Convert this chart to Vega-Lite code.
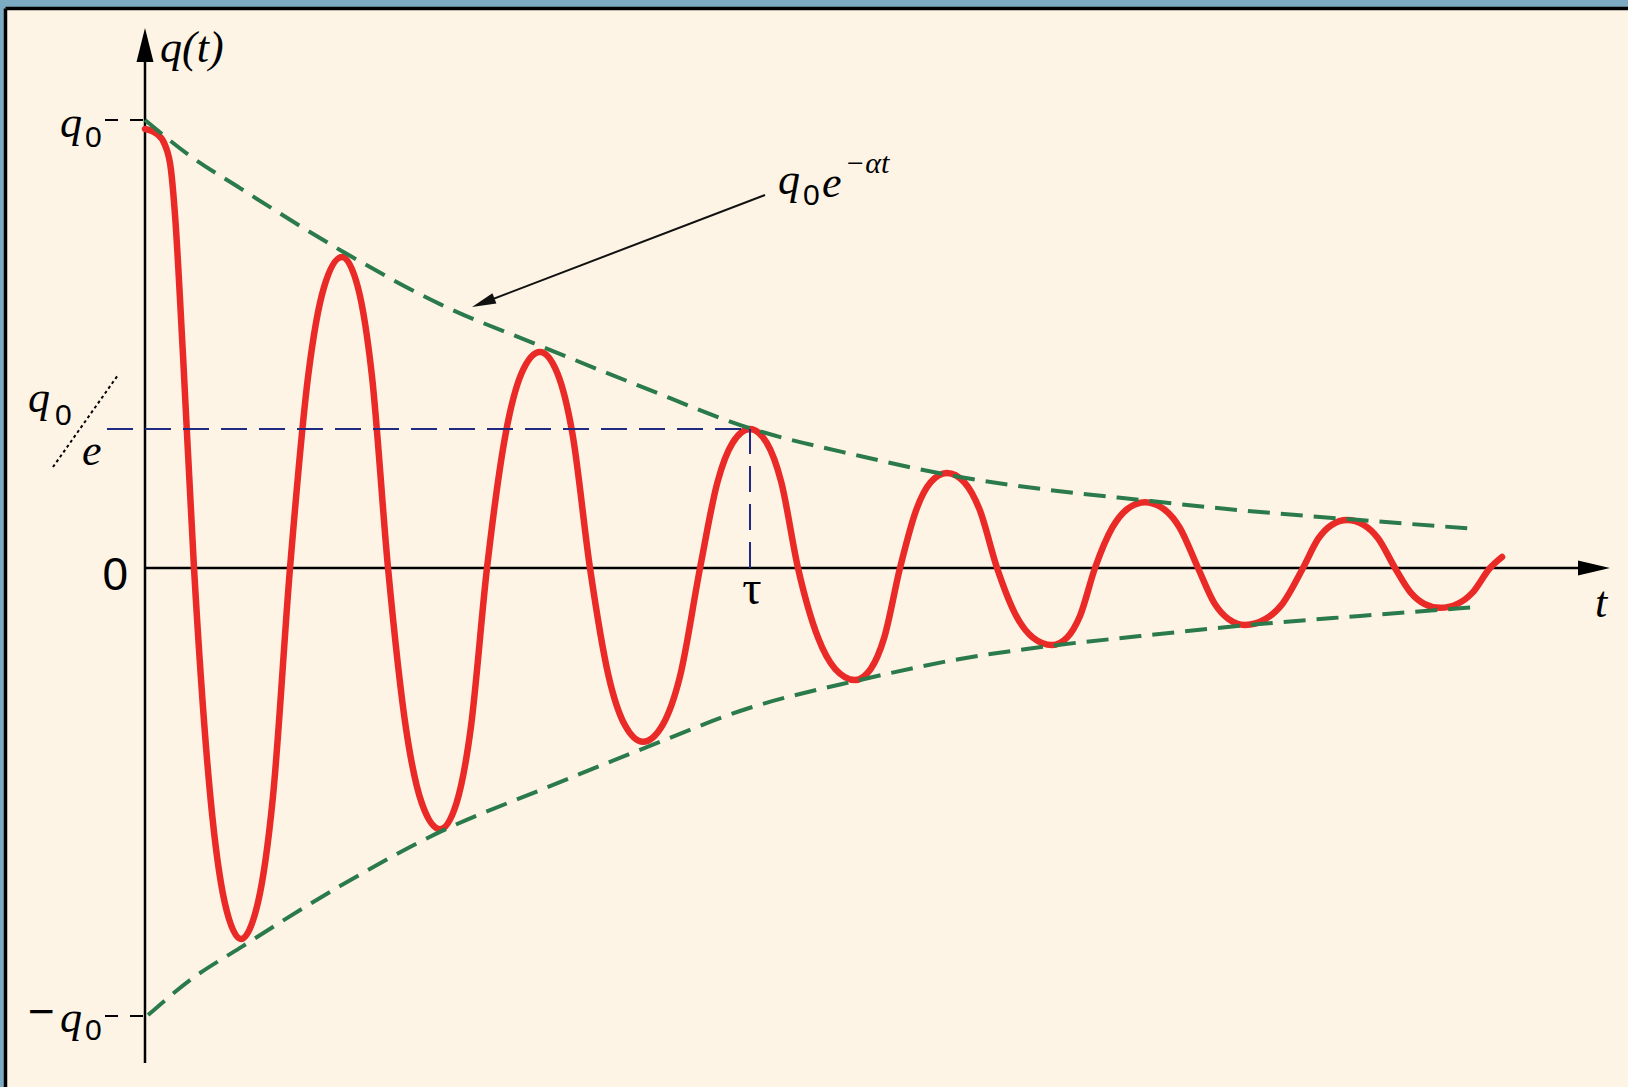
{
  "$schema": "https://vega.github.io/schema/vega-lite/v6.json",
  "width": 1623,
  "height": 1079,
  "padding": {"left": 5, "top": 8, "right": 0, "bottom": 0},
  "autosize": {"type": "none"},
  "background": "#7eabc4",
  "config": {
    "view": {"fill": "#fdf4e6", "stroke": null}
  },
  "datasets": {
    "axes": [
      {"t": 0, "q": -1.1049, "t2": 0, "q2": 1.19},
      {"t": 0, "q": 0, "t2": 2.40, "q2": 0}
    ],
    "ticks": [
      {"t": -0.0661, "q": 1, "t2": 0, "q2": 1},
      {"t": -0.0661, "q": -1, "t2": 0, "q2": -1}
    ],
    "guide": [
      {"t": -0.0628, "q": 0.31, "t2": 1, "q2": 0.31},
      {"t": 1, "q": 0, "t2": 1, "q2": 0.31}
    ],
    "slash": [
      {"t": -0.1521, "q": 0.2254, "t2": -0.0446, "q2": 0.4308}
    ],
    "pointer": [
      {"t": 1.0248, "q": 0.8326, "t2": 0.5590, "q2": 0.5922}
    ],
    "curve": [
      {"t": 0, "q": 0.980},
      {"t": 0.0198, "q": 0.969},
      {"t": 0.0331, "q": 0.944},
      {"t": 0.0430, "q": 0.888},
      {"t": 0.0496, "q": 0.788},
      {"t": 0.0628, "q": 0.475},
      {"t": 0.0810, "q": 0},
      {"t": 0.1082, "q": -0.513},
      {"t": 0.1315, "q": -0.745},
      {"t": 0.1587, "q": -0.828},
      {"t": 0.1870, "q": -0.745},
      {"t": 0.2113, "q": -0.513},
      {"t": 0.2397, "q": 0},
      {"t": 0.2698, "q": 0.430},
      {"t": 0.2955, "q": 0.625},
      {"t": 0.3256, "q": 0.694},
      {"t": 0.3522, "q": 0.625},
      {"t": 0.3750, "q": 0.430},
      {"t": 0.4017, "q": 0},
      {"t": 0.4317, "q": -0.361},
      {"t": 0.4575, "q": -0.525},
      {"t": 0.4876, "q": -0.583},
      {"t": 0.5148, "q": -0.525},
      {"t": 0.5381, "q": -0.361},
      {"t": 0.5653, "q": 0},
      {"t": 0.5960, "q": 0.299},
      {"t": 0.6222, "q": 0.434},
      {"t": 0.6529, "q": 0.482},
      {"t": 0.6818, "q": 0.434},
      {"t": 0.7066, "q": 0.299},
      {"t": 0.7355, "q": 0},
      {"t": 0.7662, "q": -0.241},
      {"t": 0.7925, "q": -0.349},
      {"t": 0.8231, "q": -0.388},
      {"t": 0.8561, "q": -0.349},
      {"t": 0.8844, "q": -0.241},
      {"t": 0.9174, "q": 0},
      {"t": 0.9463, "q": 0.192},
      {"t": 0.9711, "q": 0.279},
      {"t": 1.0, "q": 0.310},
      {"t": 1.0278, "q": 0.279},
      {"t": 1.0516, "q": 0.192},
      {"t": 1.0793, "q": 0},
      {"t": 1.1123, "q": -0.155},
      {"t": 1.1406, "q": -0.225},
      {"t": 1.1736, "q": -0.250},
      {"t": 1.1996, "q": -0.225},
      {"t": 1.2219, "q": -0.155},
      {"t": 1.2479, "q": 0},
      {"t": 1.2751, "q": 0.131},
      {"t": 1.2984, "q": 0.191},
      {"t": 1.3256, "q": 0.212},
      {"t": 1.3545, "q": 0.191},
      {"t": 1.3793, "q": 0.131},
      {"t": 1.4083, "q": 0},
      {"t": 1.4401, "q": -0.107},
      {"t": 1.4674, "q": -0.155},
      {"t": 1.4992, "q": -0.172},
      {"t": 1.5241, "q": -0.155},
      {"t": 1.5454, "q": -0.107},
      {"t": 1.5702, "q": 0},
      {"t": 1.5992, "q": 0.091},
      {"t": 1.6240, "q": 0.132},
      {"t": 1.6529, "q": 0.147},
      {"t": 1.6836, "q": 0.132},
      {"t": 1.7098, "q": 0.091},
      {"t": 1.7405, "q": 0},
      {"t": 1.7677, "q": -0.079},
      {"t": 1.7910, "q": -0.114},
      {"t": 1.8182, "q": -0.127},
      {"t": 1.8517, "q": -0.114},
      {"t": 1.8805, "q": -0.079},
      {"t": 1.9140, "q": 0},
      {"t": 1.9395, "q": 0.066},
      {"t": 1.9613, "q": 0.096},
      {"t": 1.9868, "q": 0.107},
      {"t": 2.0145, "q": 0.096},
      {"t": 2.0383, "q": 0.066},
      {"t": 2.0661, "q": 0},
      {"t": 2.0921, "q": -0.055},
      {"t": 2.1145, "q": -0.080},
      {"t": 2.1405, "q": -0.089},
      {"t": 2.1694, "q": -0.080},
      {"t": 2.1942, "q": -0.055},
      {"t": 2.2231, "q": 0},
      {"t": 2.2430, "q": 0.0246}
    ],
    "envelope": [
      {"side": "upper", "t": 0, "q": 1.0},
      {"side": "upper", "t": 0.0744, "q": 0.920},
      {"side": "upper", "t": 0.1570, "q": 0.848},
      {"side": "upper", "t": 0.3223, "q": 0.710},
      {"side": "upper", "t": 0.4876, "q": 0.589},
      {"side": "upper", "t": 0.6529, "q": 0.496},
      {"side": "upper", "t": 0.8182, "q": 0.406},
      {"side": "upper", "t": 1.0, "q": 0.312},
      {"side": "upper", "t": 1.1818, "q": 0.250},
      {"side": "upper", "t": 1.3471, "q": 0.203},
      {"side": "upper", "t": 1.4959, "q": 0.174},
      {"side": "upper", "t": 1.6446, "q": 0.152},
      {"side": "upper", "t": 1.8099, "q": 0.129},
      {"side": "upper", "t": 2.0083, "q": 0.107},
      {"side": "upper", "t": 2.2017, "q": 0.087},
      {"side": "lower", "t": 0.005, "q": -0.998},
      {"side": "lower", "t": 0.0744, "q": -0.920},
      {"side": "lower", "t": 0.1570, "q": -0.848},
      {"side": "lower", "t": 0.3223, "q": -0.710},
      {"side": "lower", "t": 0.4876, "q": -0.589},
      {"side": "lower", "t": 0.6529, "q": -0.496},
      {"side": "lower", "t": 0.8182, "q": -0.406},
      {"side": "lower", "t": 1.0, "q": -0.312},
      {"side": "lower", "t": 1.1818, "q": -0.250},
      {"side": "lower", "t": 1.3471, "q": -0.203},
      {"side": "lower", "t": 1.4959, "q": -0.174},
      {"side": "lower", "t": 1.6446, "q": -0.152},
      {"side": "lower", "t": 1.8099, "q": -0.129},
      {"side": "lower", "t": 2.0083, "q": -0.107},
      {"side": "lower", "t": 2.2017, "q": -0.087}
    ],
    "italicText": [
      {"label": "q(t)", "t": 0.0248, "q": 1.1295},
      {"label": "q", "t": -0.1405, "q": 0.9621},
      {"label": "q", "t": -0.1934, "q": 0.3482},
      {"label": "e", "t": -0.1041, "q": 0.2299},
      {"label": "q", "t": -0.1405, "q": -1.0357},
      {"label": "t", "t": 2.3967, "q": -0.1094},
      {"label": "q", "t": 1.0463, "q": 0.8348},
      {"label": "e", "t": 1.1190, "q": 0.8281}
    ],
    "subText": [
      {"label": "0", "t": -0.0992, "q": 0.9397},
      {"label": "0", "t": -0.1488, "q": 0.3192},
      {"label": "0", "t": -0.0992, "q": -1.0536},
      {"label": "0", "t": 1.0876, "q": 0.8103}
    ],
    "bigText": [
      {"label": "0", "t": -0.0281, "q": -0.0491},
      {"label": "−", "t": -0.1488, "q": -1.0246}
    ],
    "tauText": [
      {"label": "τ", "t": 1.0033, "q": -0.0804}
    ],
    "supText": [
      {"label": "−αt", "t": 1.1570, "q": 0.8817}
    ],
    "yArrow": [{"t": 0, "q": 1.1674}],
    "xArrow": [{"t": 2.3950, "q": 0}],
    "pArrow": [{"t": 0.5590, "q": 0.5922}]
  },
  "encoding": {
    "x": {
      "field": "t",
      "type": "quantitative",
      "scale": {"domain": [-0.2314, 2.4512], "nice": false, "zero": false},
      "axis": {"orient": "top", "domain": true, "domainColor": "#000000", "domainWidth": 3.5, "ticks": false, "labels": false, "grid": false, "title": null}
    },
    "y": {
      "field": "q",
      "type": "quantitative",
      "scale": {"domain": [-1.1585, 1.25], "nice": false, "zero": false},
      "axis": {"orient": "left", "domain": true, "domainColor": "#000000", "domainWidth": 3.5, "ticks": false, "labels": false, "grid": false, "title": null}
    }
  },
  "layer": [
    {
      "data": {"name": "axes"},
      "mark": {"type": "rule", "color": "#000000", "strokeWidth": 2.5},
      "encoding": {"x2": {"field": "t2"}, "y2": {"field": "q2"}}
    },
    {
      "data": {"name": "ticks"},
      "mark": {"type": "rule", "color": "#000000", "strokeWidth": 2, "strokeDash": [13, 12]},
      "encoding": {"x2": {"field": "t2"}, "y2": {"field": "q2"}}
    },
    {
      "data": {"name": "yArrow"},
      "mark": {"type": "point", "shape": "M0,-1L0.5,1L-0.5,1Z", "filled": true, "size": 1156, "color": "#000000", "opacity": 1, "strokeWidth": 0}
    },
    {
      "data": {"name": "xArrow"},
      "mark": {"type": "point", "shape": "M1,0L-1,-0.47L-1,0.47Z", "filled": true, "size": 1024, "color": "#000000", "opacity": 1, "strokeWidth": 0}
    },
    {
      "data": {"name": "curve"},
      "mark": {"type": "line", "color": "#ea2a27", "strokeWidth": 6.5, "interpolate": "monotone", "strokeCap": "round", "strokeJoin": "round"},
      "encoding": {}
    },
    {
      "data": {"name": "envelope"},
      "mark": {"type": "line", "color": "#2b7a4b", "strokeWidth": 4, "strokeDash": [22, 11], "interpolate": "monotone"},
      "encoding": {"detail": {"field": "side", "type": "nominal"}}
    },
    {
      "data": {"name": "guide"},
      "mark": {"type": "rule", "color": "#1f2a80", "strokeWidth": 2, "strokeDash": [26, 12]},
      "encoding": {"x2": {"field": "t2"}, "y2": {"field": "q2"}}
    },
    {
      "data": {"name": "slash"},
      "mark": {"type": "rule", "color": "#000000", "strokeWidth": 2, "strokeDash": [3, 3]},
      "encoding": {"x2": {"field": "t2"}, "y2": {"field": "q2"}}
    },
    {
      "data": {"name": "pointer"},
      "mark": {"type": "rule", "color": "#111111", "strokeWidth": 2},
      "encoding": {"x2": {"field": "t2"}, "y2": {"field": "q2"}}
    },
    {
      "data": {"name": "pArrow"},
      "mark": {"type": "point", "shape": "M0,-1L0.46,1L-0.46,1Z", "filled": true, "size": 576, "angle": 249, "color": "#111111", "opacity": 1, "strokeWidth": 0}
    },
    {
      "data": {"name": "italicText"},
      "mark": {"type": "text", "font": "Liberation Serif", "fontStyle": "italic", "fontSize": 44, "align": "left", "baseline": "alphabetic", "color": "#000000"},
      "encoding": {"text": {"field": "label"}}
    },
    {
      "data": {"name": "subText"},
      "mark": {"type": "text", "font": "Liberation Sans", "fontSize": 30, "align": "left", "baseline": "alphabetic", "color": "#000000"},
      "encoding": {"text": {"field": "label"}}
    },
    {
      "data": {"name": "bigText"},
      "mark": {"type": "text", "font": "Liberation Sans", "fontSize": 46, "align": "right", "baseline": "alphabetic", "color": "#000000"},
      "encoding": {"text": {"field": "label"}}
    },
    {
      "data": {"name": "tauText"},
      "mark": {"type": "text", "font": "Liberation Serif", "fontSize": 48, "align": "center", "baseline": "alphabetic", "color": "#000000"},
      "encoding": {"text": {"field": "label"}}
    },
    {
      "data": {"name": "supText"},
      "mark": {"type": "text", "font": "Liberation Serif", "fontStyle": "italic", "fontSize": 30, "align": "left", "baseline": "alphabetic", "color": "#000000"},
      "encoding": {"text": {"field": "label"}}
    }
  ]
}
